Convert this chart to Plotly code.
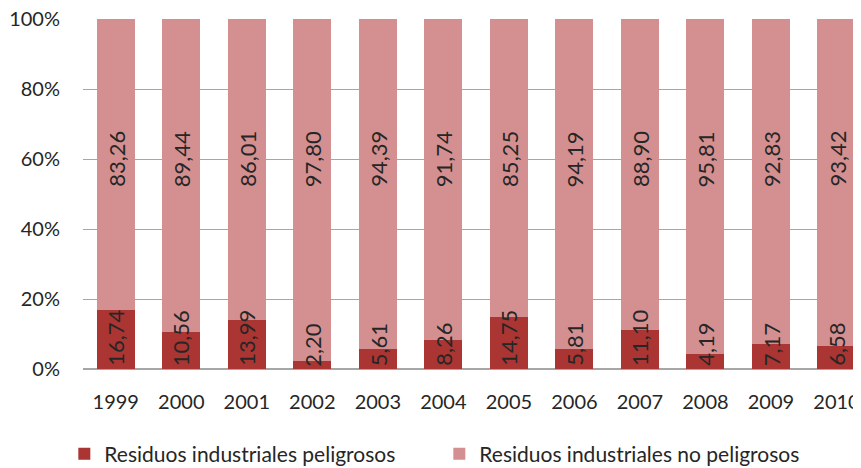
import plotly.graph_objects as go

years = ["1999", "2000", "2001", "2002", "2003", "2004",
         "2005", "2006", "2007", "2008", "2009", "2010"]
peligrosos = [16.74, 10.56, 13.99, 2.20, 5.61, 8.26, 14.75, 5.81, 11.10, 4.19, 7.17, 6.58]
no_peligrosos = [83.26, 89.44, 86.01, 97.80, 94.39, 91.74, 85.25, 94.19, 88.90, 95.81, 92.83, 93.42]
y_ticks = [0, 20, 40, 60, 80, 100]
y_tick_text = [f"{v}%" for v in y_ticks]

FONT = "Lato"
TXT = "#262626"
LBL = 22
PX_PER_UNIT = 3.5   # plot height 350px / 100%
TOP_LABEL_Y = 60    # upper labels sit on one common row in the original


def fmt(v):
    return f"{v:.2f}".replace(".", ",")


def label_len(s):
    return sum(0.23 if c == "," else 0.58 for c in s) * LBL


fig = go.Figure()
fig.add_trace(go.Bar(
    x=years, y=peligrosos, name="Residuos industriales peligrosos",
    marker=dict(color="#AB3532", line=dict(width=0)),
))
fig.add_trace(go.Bar(
    x=years, y=no_peligrosos, name="Residuos industriales no peligrosos",
    marker=dict(color="#D49091", line=dict(width=0)),
))

# value labels, rotated; lower ones centred in the segment but kept above the axis
for i, (a, b) in enumerate(zip(peligrosos, no_peligrosos)):
    t = fmt(a)
    low = (label_len(t) / 2 + 3) / PX_PER_UNIT
    fig.add_annotation(x=i, y=max(a / 2, low), text=t, textangle=-90,
                       showarrow=False, xref="x", yref="y",
                       font=dict(family=FONT, size=LBL, color=TXT))
    fig.add_annotation(x=i, y=TOP_LABEL_Y, text=fmt(b), textangle=-90,
                       showarrow=False, xref="x", yref="y",
                       font=dict(family=FONT, size=LBL, color=TXT))

# page body has an 8px margin, so the figure is 8px smaller
fig.update_layout(
    barmode="stack", bargap=0.42,
    width=853, height=460,
    margin=dict(l=75, r=0, t=11, b=99, autoexpand=False),
    paper_bgcolor="white", plot_bgcolor="white",
    font=dict(family=FONT, size=20, color=TXT),
    xaxis=dict(type="category", range=[-0.5, 11.374], showgrid=False,
               showline=False, ticks="", ticklabelstandoff=19,
               tickfont=dict(size=20), automargin=False,
               ticklabeloverflow="allow"),
    yaxis=dict(range=[0, 100], tickvals=y_ticks, ticktext=y_tick_text,
               showgrid=True, gridcolor="#A6A6A6", gridwidth=1,
               zeroline=True, zerolinecolor="#A6A6A6", ticks="",
               ticklabelstandoff=22, tickfont=dict(size=20),
               automargin=False, ticklabeloverflow="allow"),
    legend=dict(orientation="h", x=-0.024, xanchor="left", y=-0.243,
                yanchor="middle", entrywidth=330, traceorder="normal",
                font=dict(size=21)),
    showlegend=True,
)

fig.write_html("out.html")
